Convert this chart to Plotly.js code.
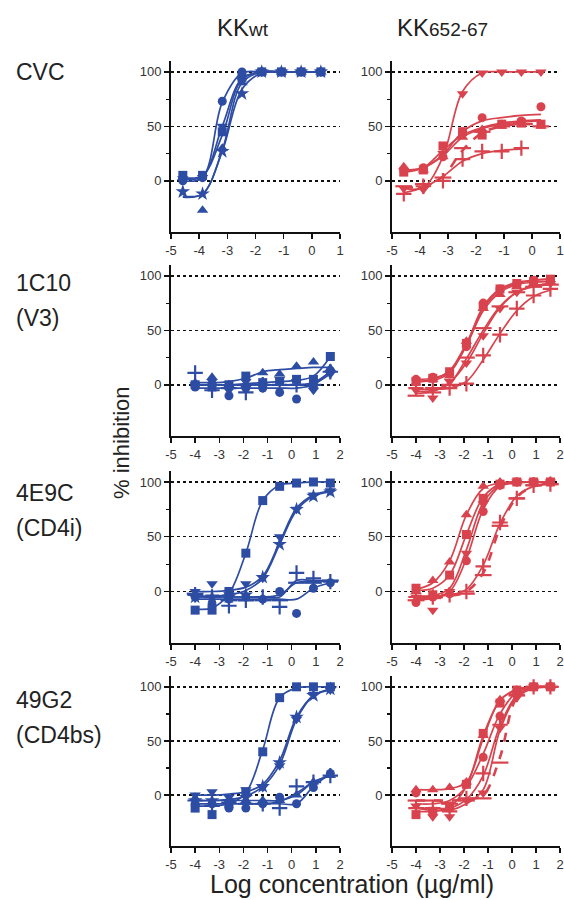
<!DOCTYPE html>
<html>
<head>
<meta charset="utf-8">
<script src="https://cdn.plot.ly/plotly-3.0.1.min.js"></script>
<style>html,body{margin:0;padding:0;background:#fff;}#chart{width:564px;height:900px;}</style>
</head>
<body>
<div id="chart"></div>
<script>
// ---- concentrations (log10 µg/ml) ----
const xCVC = [-4.58, -3.88, -3.18, -2.48, -1.78, -1.08, -0.38, 0.32];
const xMAb = [-4.0, -3.3, -2.6, -1.9, -1.2, -0.5, 0.2, 0.9, 1.6];

// ---- tick labels ----
const xTicksCVC = [-5, -4, -3, -2, -1, 0, 1];
const xTicksMAb = [-5, -4, -3, -2, -1, 0, 1, 2];
const yTicks = [0, 50, 100];
const yMinorTicks = [25, 75];

const rowLabels = [["CVC"], ["1C10", "(V3)"], ["4E9C", "(CD4i)"], ["49G2", "(CD4bs)"]];
const colLabels = ["KK<span style='font-size:19px'>wt</span>", "KK<span style='font-size:19px'>652-67</span>"];

// ---- CVC / KKwt ----
const cvcWtSquare = [5, 5, 45, 95, 100, 100, 100, 100];
const cvcWtSquareFit = [3, 5, 42, 93, 100, 100, 100, 100];
const cvcWtCircle = [0, 3, 73, 100, 100, 100, 100, 100];
const cvcWtCircleFit = [0, 3, 72, 99, 100, 100, 100, 100];
const cvcWtTriUp = [3, -27, 30, 90, 100, 100, 100, 100];
const cvcWtTriUpFit = [-14, -12, 28, 90, 100, 100, 100, 100];
const cvcWtStar = [-10, -12, 27, 80, 100, 100, 100, 100];
const cvcWtStarFit = [-15, -12, 27, 84, 99, 100, 100, 100];
const cvcWtTriDown = [2, 3, 50, 92, 100, 100, 100, 100];
const cvcWtTriDownFit = [2, 4, 50, 94, 100, 100, 100, 100];

// ---- CVC / KK652-67 ----
const cvcMuTriDown = [-7, -8, 25, 80, 99, 100, 100, 100];
const cvcMuTriDownFit = [-7, -6, 22, 82, 99, 100, 100, 100];
const cvcMuCircle = [10, 12, 22, 45, 58, 52, 55, 68];
const cvcMuCircleFit = [9, 12, 24, 45, 55, 58, 60, 61];
const cvcMuSquare = [8, 10, 32, 45, 42, 52, 53, 52];
const cvcMuSquareFit = [8, 12, 28, 42, 49, 53, 55, 56];
const cvcMuTriUp = [13, 10, 22, 40, 47, 50, 52, 50];
const cvcMuTriUpFit = [10, 12, 23, 40, 48, 52, 54, 55];
const cvcMuDash = [-5, -3, 3, 30, 45, 50, 52, 50];
const cvcMuDashFit = [-6, -5, 4, 28, 44, 50, 52, 52];
const cvcMuPlus = [-12, -5, 0, 20, 27, 27, 30, null];
const cvcMuPlusFit = [-11, -6, 4, 18, 25, 28, 29, null];

// ---- 1C10 / KKwt ----
const v3WtSquare = [0, -2, 0, 8, 2, 3, 5, 5, 26];
const v3WtSquareFit = [0, 0, 0, 1, 2, 3, 4, 8, 26];
const v3WtCircle = [-2, 0, -10, -3, -3, -7, -13, -2, 13];
const v3WtCircleFit = [-3, -3, -3, -3, -3, -3, -3, 0, 13];
const v3WtTriUp = [2, 7, 0, 0, 11, 10, 17, 21, 15];
const v3WtTriUpFit = [2, 2, 3, 6, 12, 14, 15, 16, 16];
const v3WtTriDown = [0, 3, -5, 3, 0, 5, 3, -5, 10];
const v3WtTriDownFit = [0, 0, 0, 0, 0, 0, 0, 1, 10];
const v3WtPlus = [11, -5, -3, -7, 0, 0, 0, 0, 12];
const v3WtPlusFit = [0, 0, 0, 0, 0, 0, 0, 2, 12];

// ---- 1C10 / KK652-67 ----
const v3MuSquare = [3, 6, 12, 38, 72, 88, 93, 95, 97];
const v3MuSquareFit = [3, 5, 13, 38, 70, 87, 93, 96, 97];
const v3MuCircle = [5, 7, 10, 35, 75, 88, 92, 96, 96];
const v3MuCircleFit = [5, 6, 12, 37, 72, 88, 94, 96, 97];
const v3MuTriUp = [2, 5, 8, 40, 70, 83, 90, 93, 95];
const v3MuTriUpFit = [3, 4, 11, 36, 68, 85, 92, 94, 95];
const v3MuTriDown = [-5, -12, 3, 20, 45, 70, 85, 93, 93];
const v3MuTriDownFit = [-6, -5, 2, 20, 47, 71, 85, 91, 93];
const v3MuDash = [-10, -7, 0, 25, 52, 72, 85, 90, 92];
const v3MuDashFit = [-8, -6, 1, 24, 50, 72, 85, 90, 92];
const v3MuPlus = [-3, -3, -3, 1, 27, 46, 70, 82, 88];
const v3MuPlusFit = [-4, -4, -3, 3, 23, 47, 68, 81, 87];

// ---- 4E9C / KKwt ----
const cd4iWtSquare = [-17, -17, 0, 35, 83, 96, 99, 100, 99];
const cd4iWtSquareFit = [-16, -15, -2, 35, 83, 97, 99, 100, 100];
const cd4iWtTriDown = [0, 7, -3, 7, 12, 50, 75, 88, 92];
const cd4iWtTriDownFit = [0, 0, 1, 4, 14, 45, 76, 88, 92];
const cd4iWtStar = [-5, -5, -5, -3, 13, 43, 75, 87, 91];
const cd4iWtStarFit = [-4, -4, -3, 1, 12, 43, 74, 87, 91];
const cd4iWtCircle = [-5, -12, -7, -5, -7, 0, -20, 3, 8];
const cd4iWtCircleFit = [-7, -7, -7, -7, -7, -7, -7, 3, 8];
const cd4iWtPlus = [-3, -5, -13, -8, -5, -14, 17, 12, 9];
const cd4iWtPlusFit = [-5, -5, -5, -5, -5, -5, 10, 10, 10];
const cd4iWtDash = [-2, -5, -8, -8, -8, -8, 8, 8, 10];
const cd4iWtDashFit = [-5, -5, -5, -5, -5, -3, 8, 9, 10];

// ---- 4E9C / KK652-67 ----
const cd4iMuTriUp = [0, 10, 27, 70, 96, 100, 100, 100, 100];
const cd4iMuTriUpFit = [2, 8, 28, 70, 94, 99, 100, 100, 100];
const cd4iMuSquare = [3, -3, 15, 52, 85, 98, 100, 100, 100];
const cd4iMuSquareFit = [1, 3, 15, 52, 86, 98, 100, 100, 100];
const cd4iMuTriDown = [-5, -17, 0, 35, 80, 97, 100, 100, 100];
const cd4iMuTriDownFit = [-5, -4, 3, 38, 81, 97, 100, 100, 100];
const cd4iMuCircle = [-10, -5, -2, 28, 73, 97, 100, 100, 100];
const cd4iMuCircleFit = [-8, -6, 0, 30, 75, 96, 99, 100, 100];
const cd4iMuDash = [-8, -6, -3, -2, 15, 60, 85, 97, 98];
const cd4iMuDashFit = [-6, -6, -4, 0, 17, 58, 86, 96, 98];
const cd4iMuPlus = [-5, -5, -3, 0, 23, 63, 85, 97, 98];
const cd4iMuPlusFit = [-4, -4, -3, 2, 24, 62, 87, 96, 98];

// ---- 49G2 / KKwt ----
const cd4bsWtSquare = [-12, -18, -8, 3, 40, 90, 100, 100, 100];
const cd4bsWtSquareFit = [-10, -10, -8, 2, 42, 90, 99, 100, 100];
const cd4bsWtTriDown = [0, 3, -2, 5, 7, 27, 70, 93, 97];
const cd4bsWtTriDownFit = [0, 0, 1, 3, 10, 32, 72, 92, 97];
const cd4bsWtStar = [-5, -5, -6, -2, 8, 30, 72, 92, 98];
const cd4bsWtStarFit = [-5, -5, -4, -1, 8, 28, 70, 92, 98];
const cd4bsWtCircle = [-8, -8, -12, -12, -8, -2, -8, 7, 20];
const cd4bsWtCircleFit = [-8, -8, -8, -8, -8, -8, -8, 8, 20];
const cd4bsWtPlus = [-5, -10, -7, -8, -8, -12, 8, 12, 18];
const cd4bsWtPlusFit = [-8, -8, -8, -8, -8, -6, 2, 12, 18];
const cd4bsWtTriUp = [-3, -8, -5, -5, -5, -5, 0, 12, 18];
const cd4bsWtTriUpFit = [-5, -5, -5, -5, -5, -5, 0, 12, 18];

// ---- 49G2 / KK652-67 ----
const cd4bsMuTriUp = [5, 5, 7, 12, 55, 88, 97, 100, 100];
const cd4bsMuTriUpFit = [5, 5, 6, 12, 52, 88, 97, 100, 100];
const cd4bsMuSquare = [-18, -15, -10, 10, 57, 85, 97, 100, 100];
const cd4bsMuSquareFit = [-15, -15, -11, 8, 55, 87, 98, 100, 100];
const cd4bsMuCircle = [2, -15, -12, 10, 35, 73, 95, 100, 100];
const cd4bsMuCircleFit = [-8, -8, -5, 8, 38, 75, 95, 99, 100];
const cd4bsMuTriDown = [-10, -20, -20, -5, 2, 62, 90, 100, 100];
const cd4bsMuTriDownFit = [-12, -14, -14, -8, 5, 60, 91, 99, 100];
const cd4bsMuPlus = [-12, -12, -15, -3, 20, 65, 93, 100, 100];
const cd4bsMuPlusFit = [-12, -12, -12, -4, 18, 64, 92, 99, 100];
const cd4bsMuDash = [-5, -5, -8, -5, -3, 30, 92, 100, 100];
const cd4bsMuDashFit = [-5, -5, -5, -4, 0, 35, 90, 99, 100];

// ---- styling ----
const BLUE = "#2d4ca3";
const RED = "#d8434e";
const SYM = {
  square: {symbol: "square", size: 9},
  circle: {symbol: "circle", size: 9},
  triUp: {symbol: "triangle-up", size: 10},
  triDown: {symbol: "triangle-down", size: 10},
  star: {symbol: "star", size: 11},
  plus: {symbol: "cross-thin", size: 11, open: true},
  dash: {symbol: "line-ew", size: 12, open: true}
};

const panels = [
  {row: 0, col: 0, x: xCVC, color: BLUE, series: [
    ["square", cvcWtSquare, cvcWtSquareFit], ["circle", cvcWtCircle, cvcWtCircleFit],
    ["triUp", cvcWtTriUp, cvcWtTriUpFit], ["star", cvcWtStar, cvcWtStarFit],
    ["triDown", cvcWtTriDown, cvcWtTriDownFit]]},
  {row: 0, col: 1, x: xCVC, color: RED, series: [
    ["triDown", cvcMuTriDown, cvcMuTriDownFit], ["circle", cvcMuCircle, cvcMuCircleFit],
    ["square", cvcMuSquare, cvcMuSquareFit], ["triUp", cvcMuTriUp, cvcMuTriUpFit],
    ["dash", cvcMuDash, cvcMuDashFit, true], ["plus", cvcMuPlus, cvcMuPlusFit]]},
  {row: 1, col: 0, x: xMAb, color: BLUE, series: [
    ["square", v3WtSquare, v3WtSquareFit], ["circle", v3WtCircle, v3WtCircleFit],
    ["triUp", v3WtTriUp, v3WtTriUpFit], ["triDown", v3WtTriDown, v3WtTriDownFit],
    ["plus", v3WtPlus, v3WtPlusFit]]},
  {row: 1, col: 1, x: xMAb, color: RED, series: [
    ["square", v3MuSquare, v3MuSquareFit], ["circle", v3MuCircle, v3MuCircleFit],
    ["triUp", v3MuTriUp, v3MuTriUpFit], ["triDown", v3MuTriDown, v3MuTriDownFit],
    ["dash", v3MuDash, v3MuDashFit], ["plus", v3MuPlus, v3MuPlusFit]]},
  {row: 2, col: 0, x: xMAb, color: BLUE, series: [
    ["square", cd4iWtSquare, cd4iWtSquareFit], ["triDown", cd4iWtTriDown, cd4iWtTriDownFit],
    ["star", cd4iWtStar, cd4iWtStarFit], ["circle", cd4iWtCircle, cd4iWtCircleFit],
    ["plus", cd4iWtPlus, cd4iWtPlusFit], ["dash", cd4iWtDash, cd4iWtDashFit]]},
  {row: 2, col: 1, x: xMAb, color: RED, series: [
    ["triUp", cd4iMuTriUp, cd4iMuTriUpFit], ["square", cd4iMuSquare, cd4iMuSquareFit],
    ["triDown", cd4iMuTriDown, cd4iMuTriDownFit], ["circle", cd4iMuCircle, cd4iMuCircleFit],
    ["dash", cd4iMuDash, cd4iMuDashFit, true], ["plus", cd4iMuPlus, cd4iMuPlusFit]]},
  {row: 3, col: 0, x: xMAb, color: BLUE, series: [
    ["square", cd4bsWtSquare, cd4bsWtSquareFit], ["triDown", cd4bsWtTriDown, cd4bsWtTriDownFit],
    ["star", cd4bsWtStar, cd4bsWtStarFit], ["circle", cd4bsWtCircle, cd4bsWtCircleFit],
    ["plus", cd4bsWtPlus, cd4bsWtPlusFit], ["triUp", cd4bsWtTriUp, cd4bsWtTriUpFit]]},
  {row: 3, col: 1, x: xMAb, color: RED, series: [
    ["triUp", cd4bsMuTriUp, cd4bsMuTriUpFit], ["square", cd4bsMuSquare, cd4bsMuSquareFit],
    ["circle", cd4bsMuCircle, cd4bsMuCircleFit], ["triDown", cd4bsMuTriDown, cd4bsMuTriDownFit],
    ["plus", cd4bsMuPlus, cd4bsMuPlusFit], ["dash", cd4bsMuDash, cd4bsMuDashFit, true]]}
];

// ---- layout geometry (pixels) ----
const W = 564, H = 900;
const colPx = [[171, 340], [392, 560]];
const rowPx = [[61, 232], [265, 436], [471, 643], [676, 846]];
const yRange = [-47, 110];

const traces = [];
const layout = {
  width: W, height: H,
  margin: {l: 0, r: 0, t: 0, b: 0},
  paper_bgcolor: "#fff", plot_bgcolor: "rgba(0,0,0,0)",
  showlegend: false,
  font: {family: "Liberation Sans, Arial, sans-serif", color: "#222"},
  annotations: []
};

panels.forEach((p, i) => {
  const n = i + 1;
  const xa = "x" + (n === 1 ? "" : n), ya = "y" + (n === 1 ? "" : n);
  const xk = "xaxis" + (n === 1 ? "" : n), yk = "yaxis" + (n === 1 ? "" : n);
  const ticks = p.row === 0 ? xTicksCVC : xTicksMAb;
  const cp = colPx[p.col], rp = rowPx[p.row];
  layout[xk] = {
    domain: [cp[0] / W, cp[1] / W], anchor: ya,
    range: [ticks[0], ticks[ticks.length - 1]],
    tickmode: "array", tickvals: ticks, ticktext: ticks.map(String),
    ticks: "outside", ticklen: 5, tickwidth: 1.5, tickcolor: "#111",
    showline: true, linecolor: "#111", linewidth: 2,
    showgrid: false, zeroline: false,
    tickfont: {size: 13, color: "#333"}
  };
  layout[yk] = {
    domain: [1 - rp[1] / H, 1 - rp[0] / H], anchor: xa,
    range: yRange,
    tickmode: "array", tickvals: yTicks, ticktext: yTicks.map(String),
    ticks: "outside", ticklen: 5, tickwidth: 1.5, tickcolor: "#111",
    minor: {tickmode: "array", tickvals: yMinorTicks, ticks: "outside", ticklen: 3, tickwidth: 1.2, tickcolor: "#111", showgrid: false},
    showline: true, linecolor: "#111", linewidth: 2,
    showgrid: true, gridcolor: "#111", gridwidth: 1.4, griddash: "dot",
    zeroline: false,
    tickfont: {size: 13, color: "#333"}
  };
  p.series.forEach(s => {
    const st = SYM[s[0]];
    traces.push({
      type: "scatter", mode: "lines", x: p.x, y: s[2], xaxis: xa, yaxis: ya,
      line: {color: p.color, width: s[3] ? 2.6 : 1.7, shape: "spline", smoothing: 1, dash: s[3] ? "dash" : "solid"},
      hoverinfo: "skip", connectgaps: false
    });
    traces.push({
      type: "scatter", mode: "markers", x: p.x, y: s[1], xaxis: xa, yaxis: ya,
      marker: {
        symbol: st.symbol, size: st.size, color: p.color,
        line: {color: p.color, width: st.open ? 2.2 : 0}
      },
      cliponaxis: false
    });
  });
});

// column titles
[243, 442].forEach((cx, i) => {
  layout.annotations.push({xref: "paper", yref: "paper", x: cx / W, y: 1 - 28 / H,
    text: colLabels[i], showarrow: false, font: {size: 24, color: "#222"}, xanchor: "center", yanchor: "middle"});
});
// row labels
const rowLabelY = [[72], [283, 318], [493, 528], [700, 735]];
rowLabels.forEach((lines, r) => {
  lines.forEach((t, k) => {
    layout.annotations.push({xref: "paper", yref: "paper", x: 14 / W, y: 1 - rowLabelY[r][k] / H,
      text: t, showarrow: false, font: {size: 23, color: "#222"}, xanchor: "left", yanchor: "middle"});
  });
});
// axis titles
layout.annotations.push({xref: "paper", yref: "paper", x: 121 / W, y: 1 - 443 / H, text: "% inhibition",
  textangle: -90, showarrow: false, font: {size: 22, color: "#222"}, xanchor: "center", yanchor: "middle"});
layout.annotations.push({xref: "paper", yref: "paper", x: 352 / W, y: 1 - 884 / H, text: "Log concentration (µg/ml)",
  showarrow: false, font: {size: 25, color: "#222"}, xanchor: "center", yanchor: "middle"});

Plotly.newPlot("chart", traces, layout, {staticPlot: true, displayModeBar: false});
</script>
</body>
</html>
